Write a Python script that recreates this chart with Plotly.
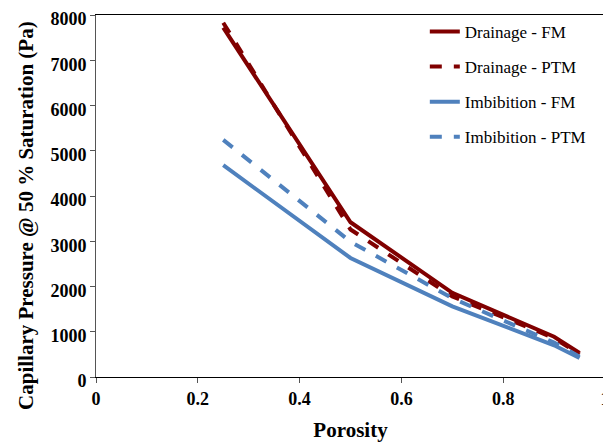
import plotly.graph_objects as go

porosity = [0.25, 0.5, 0.7, 0.9, 0.95]
drainage_fm = [7720, 3420, 1860, 890, 530]
drainage_ptm = [7830, 3260, 1780, 860, 500]
imbibition_fm = [4680, 2630, 1560, 700, 420]
imbibition_ptm = [5240, 2990, 1740, 760, 450]

x_title = "Porosity"
y_title = "Capillary Pressure @ 50 % Saturation (Pa)"

series = [
    ("Drainage - FM", drainage_fm, "#800000", "solid"),
    ("Drainage - PTM", drainage_ptm, "#800000", "dash"),
    ("Imbibition - FM", imbibition_fm, "#4F81BD", "solid"),
    ("Imbibition - PTM", imbibition_ptm, "#4F81BD", "dash"),
]

fig = go.Figure()
for i, (name, ys, color, dash) in enumerate(series):
    fig.add_trace(go.Scatter(x=porosity, y=ys, mode="lines", name=name,
                             legendgroup=f"g{i}",
                             line=dict(color=color, width=4, dash=dash)))

font = '"Liberation Serif", "Times New Roman", Times, serif'
fig.update_layout(
    width=603, height=436,
    margin=dict(l=88, r=6, t=7, b=67),
    paper_bgcolor="white", plot_bgcolor="white",
    font=dict(family=font, color="black"),
    showlegend=True,
    legend=dict(x=0.646, y=1.003, xanchor="left", yanchor="top",
                font=dict(family=font, size=17, color="black"),
                bgcolor="rgba(0,0,0,0)", tracegroupgap=10),
    xaxis=dict(range=[0, 1], tickvals=[0, 0.2, 0.4, 0.6, 0.8, 1],
               ticktext=["0", "0.2", "0.4", "0.6", "0.8", "1"],
               automargin=False, ticklabeloverflow="allow",
               showgrid=False, zeroline=False, showline=True, linecolor="#000",
               linewidth=1, mirror=True, ticks="outside", ticklen=5, tickcolor="#555",
               tickfont=dict(family=font, size=18, color="black", weight="bold"),
               title=dict(text=f"<b>{x_title}</b>", font=dict(family=font, size=21), standoff=14)),
    yaxis=dict(range=[0, 8000], dtick=1000, showgrid=False, zeroline=False,
               automargin=False, ticklabeloverflow="allow", ticklabelshift=4,
               showline=True, linecolor="#555", linewidth=1, mirror=True,
               ticks="outside", ticklen=5, tickcolor="#555",
               tickfont=dict(family=font, size=18, color="black", weight="bold")),
    annotations=[dict(text=f"<b>{y_title}</b>", textangle=-90,
                      xref="paper", yref="paper", x=-0.1375, y=0.445,
                      xanchor="center", yanchor="middle", showarrow=False,
                      font=dict(family=font, size=21, color="black"))],
)

fig.write_html("out.html")
